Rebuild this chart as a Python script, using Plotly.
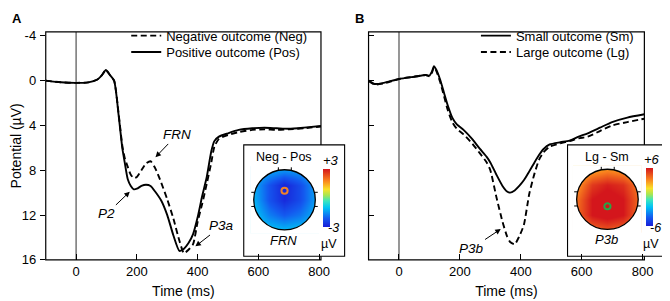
import plotly.graph_objects as go

W, H = 670, 301
def px(x): return x / W
def py(y): return 1 - y / H

FONT = "Liberation Sans, Arial, Helvetica, sans-serif"

# ---------------- data ----------------
a_time = [-100, -50, 0, 40, 70, 85, 98, 110, 125, 140, 152, 160, 170, 180, 190, 200, 215, 230,
          245, 260, 280, 300, 320, 340, 355, 370, 385, 400, 415, 430, 445, 455, 470, 500, 535,
          580, 620, 660, 700, 750, 806]
a_neg = [0.0, 0.15, 0.2, 0.15, -0.1, -0.5, -0.95, -0.55, 0.0, 3.0, 5.8, 6.9, 7.7, 8.4, 8.7, 8.6,
         8.0, 7.4, 7.2, 7.8, 9.1, 10.6, 12.3, 14.3, 15.4, 15.1, 14.6, 12.6, 11.0, 9.2, 7.3, 5.9,
         5.2, 4.85, 4.6, 4.4, 4.35, 4.4, 4.35, 4.25, 4.1]
a_pos = [0.0, 0.15, 0.2, 0.15, -0.1, -0.5, -0.95, -0.55, 0.0, 3.1, 6.0, 7.3, 8.8, 9.4, 9.7, 9.65,
         9.4, 9.3, 9.4, 9.9, 10.7, 12.0, 13.8, 15.2, 15.0, 14.5, 13.7, 12.2, 10.3, 8.6, 6.3, 5.4,
         5.0, 4.7, 4.4, 4.25, 4.2, 4.25, 4.3, 4.2, 4.05]

b_time = [-100, -80, -50, 0, 50, 88, 100, 108, 115, 122, 135, 148, 160, 175, 190, 212, 240, 266,
          288, 300, 320, 340, 355, 365, 380, 395, 410, 428, 445, 461, 475, 495, 530, 560, 590,
          620, 660, 700, 750, 806]
b_small = [0.0, 0.3, 0.2, -0.15, -0.35, -0.5, -0.45, -0.8, -1.3, -1.0, -0.1, 1.1, 2.2, 3.3, 3.9,
           4.4, 5.2, 6.1, 6.8, 7.3, 8.4, 9.4, 9.9, 10.0, 9.8, 9.4, 8.9, 8.1, 7.3, 6.6, 6.1, 5.7,
           5.5, 5.35, 5.0, 4.7, 4.2, 3.7, 3.3, 3.0]
b_large = [0.0, 0.35, 0.25, -0.15, -0.35, -0.5, -0.4, -0.7, -1.2, -0.9, 0.1, 1.4, 2.6, 3.7, 4.3,
           4.8, 5.6, 6.5, 7.3, 8.0, 10.4, 12.6, 13.9, 14.4, 14.6, 13.9, 12.9, 10.1, 8.3, 7.0, 6.4,
           5.9, 5.6, 5.4, 5.15, 5.0, 4.5, 4.0, 3.7, 3.4]

x_ticks = [0, 200, 400, 600, 800]
y_ticks = [-4, 0, 4, 8, 12, 16]
y_tick_text = ["-4", "0", "4", "8", "12", "16"]

# topographic maps (coarse scalp grid, rows bottom -> top)
topo_coords = [-1.0, -0.5, 0.0, 0.5, 1.0]
topo_frn = [[-0.8, -1.0, -1.1, -1.0, -0.9],
            [-1.0, -1.7, -2.1, -1.8, -1.2],
            [-1.2, -2.2, -2.8, -2.3, -1.4],
            [-1.3, -2.2, -2.9, -2.3, -1.4],
            [-1.1, -1.3, -1.5, -1.4, -1.2]]
topo_p3b = [[3.5, 4.2, 4.6, 4.2, 3.5],
            [4.2, 6.0, 6.5, 6.0, 4.2],
            [4.0, 6.0, 6.5, 6.0, 4.2],
            [3.2, 5.2, 5.8, 5.4, 3.8],
            [2.2, 2.9, 3.4, 3.1, 2.8]]

colorscale = [[0.0, "rgb(25,30,215)"], [0.15, "rgb(20,90,240)"], [0.33, "rgb(0,195,245)"],
              [0.45, "rgb(60,230,190)"], [0.55, "rgb(170,230,80)"], [0.65, "rgb(250,225,40)"],
              [0.8, "rgb(250,130,30)"], [1.0, "rgb(212,22,28)"]]

fig = go.Figure()

DASH = "6px,3.5px"
line_w = 1.9

# Panel A
fig.add_trace(go.Scatter(x=a_time, y=a_neg, mode="lines", name="Negative outcome (Neg)",
                         line=dict(color="black", width=line_w, dash=DASH, shape="spline", smoothing=0.6),
                         xaxis="x", yaxis="y", legend="legend"))
fig.add_trace(go.Scatter(x=a_time, y=a_pos, mode="lines", name="Positive outcome (Pos)",
                         line=dict(color="black", width=line_w, shape="spline", smoothing=0.6),
                         xaxis="x", yaxis="y", legend="legend2"))
# Panel B
fig.add_trace(go.Scatter(x=b_time, y=b_small, mode="lines", name="Small outcome (Sm)",
                         line=dict(color="black", width=line_w, shape="spline", smoothing=0.6),
                         xaxis="x2", yaxis="y2", legend="legend3"))
fig.add_trace(go.Scatter(x=b_time, y=b_large, mode="lines", name="Large outcome (Lg)",
                         line=dict(color="black", width=line_w, dash=DASH, shape="spline", smoothing=0.6),
                         xaxis="x2", yaxis="y2", legend="legend4"))

# Topomaps
def cbar(x_left, y_mid):
    return dict(x=px(x_left), xanchor="left", y=py(y_mid), yanchor="middle",
                len=60.5 / H, lenmode="fraction", thickness=7, thicknessmode="pixels",
                xpad=0, ypad=0, outlinewidth=0, showticklabels=False, ticks="")

fig.add_trace(go.Heatmap(x=topo_coords, y=topo_coords, z=topo_frn, zmin=-3, zmax=3, zsmooth="best",
                         colorscale=colorscale, colorbar=cbar(318.3, 193.7), showscale=True,
                         xaxis="x3", yaxis="y3", hoverinfo="skip"))
fig.add_trace(go.Heatmap(x=topo_coords, y=topo_coords, z=topo_p3b, zmin=-6, zmax=6, zsmooth="best",
                         colorscale=colorscale, colorbar=cbar(646.3, 193.5), showscale=True,
                         xaxis="x4", yaxis="y4", hoverinfo="skip"))

# Axes
A_L, A_R = 37.3, 316.7
B_L, B_R = 365.0, 645.0
TOP, BOT = 21.7, 258.3
tickfont = dict(family=FONT, size=13, color="black")
xcommon = dict(range=[-100, 806], tickvals=x_ticks, ticks="inside", ticklen=6, tickwidth=1.2,
               tickcolor="black", showgrid=False, zeroline=False, showline=False,
               tickfont=tickfont, ticklabelstandoff=2)
ycommon = dict(range=[16, -4.35], tickvals=y_ticks, ticktext=y_tick_text, ticklen=5, tickwidth=1.2,
               tickcolor="black", showgrid=False, zeroline=False, showline=False, tickfont=tickfont)

fig.update_layout(
    xaxis=dict(domain=[px(A_L), px(A_R)], anchor="y",
               title=dict(text="Time (ms)", font=dict(family=FONT, size=14), standoff=8), **xcommon),
    yaxis=dict(domain=[py(BOT), py(TOP)], anchor="x", ticks="outside", ticklabelstandoff=1,
               title=dict(text="Potential (µV)", font=dict(family=FONT, size=14), standoff=4), **ycommon),
    xaxis2=dict(domain=[px(B_L), px(B_R)], anchor="y2",
                title=dict(text="Time (ms)", font=dict(family=FONT, size=14), standoff=8), **xcommon),
    yaxis2=dict(domain=[py(BOT), py(TOP)], anchor="x2", ticks="inside", showticklabels=False, **ycommon),
    xaxis3=dict(domain=[px(244.7), px(314.7)], range=[-1.12, 1.12], visible=False, anchor="y3"),
    yaxis3=dict(domain=[py(231.0), py(161.0)], range=[-1.12, 1.12], visible=False, anchor="x3"),
    xaxis4=dict(domain=[px(572.5), px(642.5)], range=[-1.12, 1.12], visible=False, anchor="y4"),
    yaxis4=dict(domain=[py(230.5), py(160.5)], range=[-1.12, 1.12], visible=False, anchor="x4"),
)

shapes = []
# vertical zero lines
for xr, yr in (("x", "y domain"), ("x2", "y2 domain")):
    shapes.append(dict(type="line", xref=xr, yref=yr, x0=0, x1=0, y0=0, y1=1,
                       line=dict(color="rgb(125,125,125)", width=1.6), layer="below"))
# frames
for l, r in ((A_L, A_R), (B_L, B_R)):
    shapes.append(dict(type="rect", xref="paper", yref="paper", x0=px(l), x1=px(r), y0=py(BOT), y1=py(TOP),
                       line=dict(color="black", width=1.2), layer="below"))
# inset boxes
for l, r, t, b in ((238.3, 340.7, 139.0, 254.5), (567.0, 675.0, 139.0, 254.5)):
    shapes.append(dict(type="rect", xref="paper", yref="paper", x0=px(l), x1=px(r), y0=py(b), y1=py(t),
                       fillcolor="white", line=dict(color="black", width=1.1), layer="below"))

k = 0.5523
circle_path = (f"M 1,0 C 1,{k} {k},1 0,1 C -{k},1 -1,{k} -1,0 C -1,-{k} -{k},-1 0,-1 "
               f"C {k},-1 1,-{k} 1,0 Z")
mask_path = "M -1.2,-1.2 L 1.2,-1.2 L 1.2,1.2 L -1.2,1.2 Z " + circle_path
for xr, yr, ex, ey, ec in (("x3", "y3", 0.0, 0.30, "rgb(240,130,40)"),
                           ("x4", "y4", 0.0, -0.23, "rgb(40,165,70)")):
    shapes.append(dict(type="path", xref=xr, yref=yr, path=mask_path, fillrule="evenodd",
                       fillcolor="white", line=dict(width=0), layer="above"))
    shapes.append(dict(type="circle", xref=xr, yref=yr, x0=-1, x1=1, y0=-1, y1=1,
                       line=dict(color="black", width=1.3), layer="above"))
    for yy in (0.25, -0.22):
        shapes.append(dict(type="line", xref=xr, yref=yr, x0=-1.08, x1=-0.98, y0=yy, y1=yy,
                           line=dict(color="black", width=1), layer="above"))
        shapes.append(dict(type="line", xref=xr, yref=yr, x0=0.98, x1=1.08, y0=yy, y1=yy,
                           line=dict(color="black", width=1), layer="above"))
    for xx in (-0.2, 0.22):
        shapes.append(dict(type="line", xref=xr, yref=yr, x0=xx, x1=xx, y0=0.98, y1=1.08,
                           line=dict(color="black", width=1), layer="above"))
    shapes.append(dict(type="circle", xref=xr, yref=yr, x0=ex - 0.1, x1=ex + 0.1, y0=ey - 0.1, y1=ey + 0.1,
                       line=dict(color=ec, width=2), layer="above"))
fig.update_layout(shapes=shapes)

ann = []
def txt(x, y, s, size=13, italic=False, bold=False, yanchor="middle"):
    if italic:
        s = f"<i>{s}</i>"
    if bold:
        s = f"<b>{s}</b>"
    ann.append(dict(x=px(x), y=py(y), xref="paper", yref="paper", text=s, showarrow=False,
                    xanchor="center", yanchor=yanchor, borderpad=0,
                    font=dict(family=FONT, size=size, color="black")))

txt(8, 8, "A", 13, bold=True)
txt(356, 8, "B", 13, bold=True)
txt(279, 152, "Neg - Pos", 12.5)
txt(607, 152, "Lg - Sm", 12.5)
txt(327, 155, "+3", 13, italic=True)
txt(329, 234, "-3", 12.5, italic=True, yanchor="bottom")
txt(325, 234, "µV", 12.5, yanchor="top")
txt(279, 238, "FRN", 13, italic=True)
txt(653, 154, "+6", 13, italic=True)
txt(656, 234, "-6", 12.5, italic=True, yanchor="bottom")
txt(652, 234, "µV", 12.5, yanchor="top")
txt(607, 237, "P3b", 13, italic=True)

def arrow(xr, yr, x, y, ax, ay, s):
    ann.append(dict(x=x, y=y, xref=xr, yref=yr, ax=ax, ay=ay, text=f"<i>{s}</i>", showarrow=True,
                    arrowhead=2, arrowsize=1.1, arrowwidth=1, arrowcolor="black", standoff=1,
                    font=dict(family=FONT, size=13.5, color="black")))

arrow("x", "y", 259, 6.9, 22, -23, "FRN")
arrow("x", "y", 179, 9.85, -24, 23, "P2")
arrow("x", "y", 390, 14.85, 27, -21, "P3a")
arrow("x2", "y2", 337, 13.2, -30, 20, "P3b")
fig.update_layout(annotations=ann)

legend_common = dict(font=dict(family=FONT, size=13, color="black"), bgcolor="rgba(0,0,0,0)",
                     xanchor="left", yanchor="top", itemwidth=30, borderwidth=0)
fig.update_layout(
    legend=dict(x=px(119), y=py(10), **legend_common),
    legend2=dict(x=px(119), y=py(27), **legend_common),
    legend3=dict(x=px(474), y=py(10), **legend_common),
    legend4=dict(x=px(474), y=py(27), **legend_common),
    showlegend=True,
    width=W, height=H, autosize=False,
    margin=dict(l=0, r=0, t=0, b=0),
    paper_bgcolor="white", plot_bgcolor="rgba(0,0,0,0)",
    font=dict(family=FONT, size=13, color="black"),
)

fig.write_html("out.html")
